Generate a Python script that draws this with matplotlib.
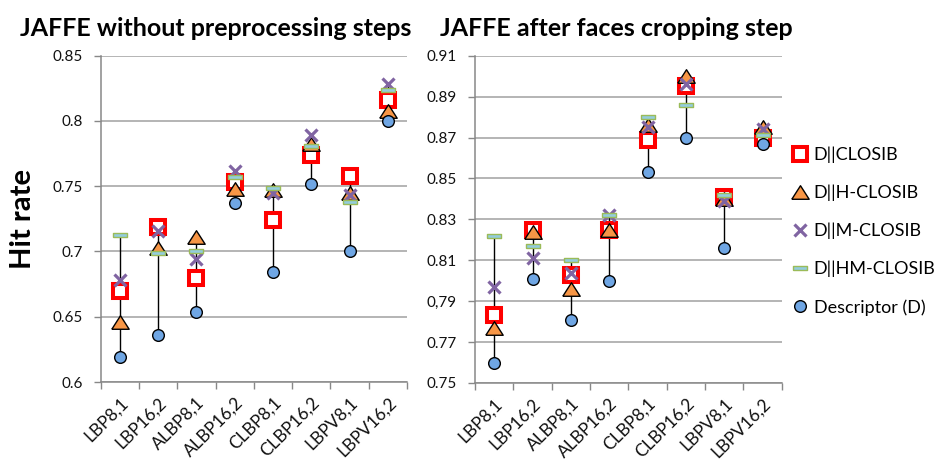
import matplotlib
matplotlib.use('Agg')
import matplotlib.pyplot as plt
import numpy as np

plt.rcParams['font.family'] = ['Lato', 'DejaVu Sans']

categories = ['LBP8,1', 'LBP16,2', 'ALBP8,1', 'ALBP16,2',
              'CLBP8,1', 'CLBP16,2', 'LBPV8,1', 'LBPV16,2']

series_names = ['D||CLOSIB', 'D||H-CLOSIB', 'D||M-CLOSIB', 'D||HM-CLOSIB', 'Descriptor (D)']

# Left panel: JAFFE without preprocessing steps
left_closib = [0.670, 0.719, 0.680, 0.753, 0.724, 0.774, 0.758, 0.816]
left_h      = [0.646, 0.703, 0.711, 0.748, 0.747, 0.782, 0.745, 0.808]
left_m      = [0.678, 0.716, 0.694, 0.762, 0.745, 0.789, 0.743, 0.828]
left_hm     = [0.713, 0.699, 0.700, 0.757, 0.749, 0.781, 0.738, 0.824]
left_d      = [0.619, 0.636, 0.654, 0.737, 0.684, 0.752, 0.700, 0.800]

# Right panel: JAFFE after faces cropping step
right_closib = [0.783, 0.825, 0.803, 0.825, 0.869, 0.895, 0.841, 0.870]
right_h      = [0.777, 0.824, 0.796, 0.825, 0.876, 0.900, 0.840, 0.875]
right_m      = [0.797, 0.811, 0.804, 0.832, 0.875, 0.896, 0.839, 0.874]
right_hm     = [0.822, 0.817, 0.810, 0.832, 0.880, 0.886, 0.842, 0.871]
right_d      = [0.760, 0.801, 0.781, 0.800, 0.853, 0.870, 0.816, 0.867]

left_yticks = [0.6, 0.65, 0.7, 0.75, 0.8, 0.85]
left_yticklabels = ['0.6', '0.65', '0.7', '0.75', '0.8', '0.85']
right_yticks = [0.75, 0.77, 0.79, 0.81, 0.83, 0.85, 0.87, 0.89, 0.91]
right_yticklabels = ['0.75', '0.77', '0,79', '0.81', '0.83', '0.85', '0.87', '0.89', '0.91']

left_title = 'JAFFE without preprocessing steps'
right_title = 'JAFFE after faces cropping step'
ylabel = 'Hit rate'

# marker styles
tri_marker = [(-1, -0.78), (1, -0.78), (0, 0.78), (-1, -0.78)]
dash_marker = [(-1, -0.27), (1, -0.27), (1, 0.27), (-1, 0.27), (-1, -0.27)]
styles = [
    dict(marker='s', markersize=9.6, markerfacecolor='white', markeredgecolor='#FF0000', markeredgewidth=2.9),
    dict(marker=tri_marker, markersize=12.5, markerfacecolor='#F79646', markeredgecolor='black', markeredgewidth=1.0),
    dict(marker='x', markersize=9.0, markeredgecolor='#8064A2', markeredgewidth=2.3),
    dict(marker=dash_marker, markersize=10.5, markerfacecolor='#93CDDD', markeredgecolor='#9BBB59', markeredgewidth=1.0),
    dict(marker='o', markersize=8.4, markerfacecolor='#6FA6E4', markeredgecolor='black', markeredgewidth=1.0),
]

W, H = 942, 465
fig = plt.figure(figsize=(W / 100, H / 100), dpi=100)

def fx(px):
    return px / W

def fy(py):
    return 1 - py / H

ax1 = fig.add_axes([fx(100.7), fy(382), fx(407) - fx(100.7), fy(55.7) - fy(382)])
ax2 = fig.add_axes([fx(475), fy(383), fx(781.7) - fx(475), fy(55.7) - fy(383)])

panels = [
    (ax1, [left_closib, left_h, left_m, left_hm, left_d], left_yticks, left_yticklabels),
    (ax2, [right_closib, right_h, right_m, right_hm, right_d], right_yticks, right_yticklabels),
]

x = np.arange(len(categories))
handles = []
for ax, data, yt, ytl in panels:
    arr = np.array(data)
    lo = arr.min(axis=0)
    hi = arr.max(axis=0)
    ax.vlines(x, lo, hi, colors='black', linewidth=1.0, zorder=2)
    hs = []
    for vals, st in zip(data, styles):
        h, = ax.plot(x, vals, linestyle='none', zorder=3, **st)
        hs.append(h)
    handles = hs
    ax.set_xlim(-0.5, len(categories) - 0.5)
    ax.set_ylim(yt[0], yt[-1])
    ax.set_yticks(yt)
    ax.set_yticklabels(ytl)
    ax.set_xticks(x)
    ax.set_xticklabels(categories, rotation=45, ha='right', rotation_mode='anchor')
    ax.set_xticks(np.arange(-0.5, len(categories)), minor=True)
    ax.tick_params(axis='x', which='major', length=0, pad=9, labelsize=12.5, labelcolor='#111111')
    ax.tick_params(axis='x', which='minor', length=5, width=1, color='#888888', direction='out')
    ax.tick_params(axis='y', which='major', length=5, width=1, color='#888888', direction='out',
                   pad=8, labelsize=11, labelcolor='#111111')
    ax.grid(axis='y', color='#A0A0A0', linewidth=1.1)
    ax.set_axisbelow(True)
    for s in ['top', 'right']:
        ax.spines[s].set_visible(False)
    for s in ['left', 'bottom']:
        ax.spines[s].set_color('#888888')
        ax.spines[s].set_linewidth(1.1)

fig.text(fx(216), fy(28), left_title, ha='center', va='center', fontsize=18, fontweight='bold')
fig.text(fx(616), fy(28), right_title, ha='center', va='center', fontsize=18, fontweight='bold')
fig.text(fx(23), fy(219), ylabel, ha='center', va='center', rotation=90, fontsize=21, fontweight='bold')

fig.legend(handles, series_names, loc='center left', bbox_to_anchor=(fx(791), fy(231)),
           frameon=False, fontsize=13, labelspacing=1.2, handlelength=1.0,
           handletextpad=0.25, borderpad=0, borderaxespad=0, numpoints=1)

fig.savefig('out.png', dpi=100)
